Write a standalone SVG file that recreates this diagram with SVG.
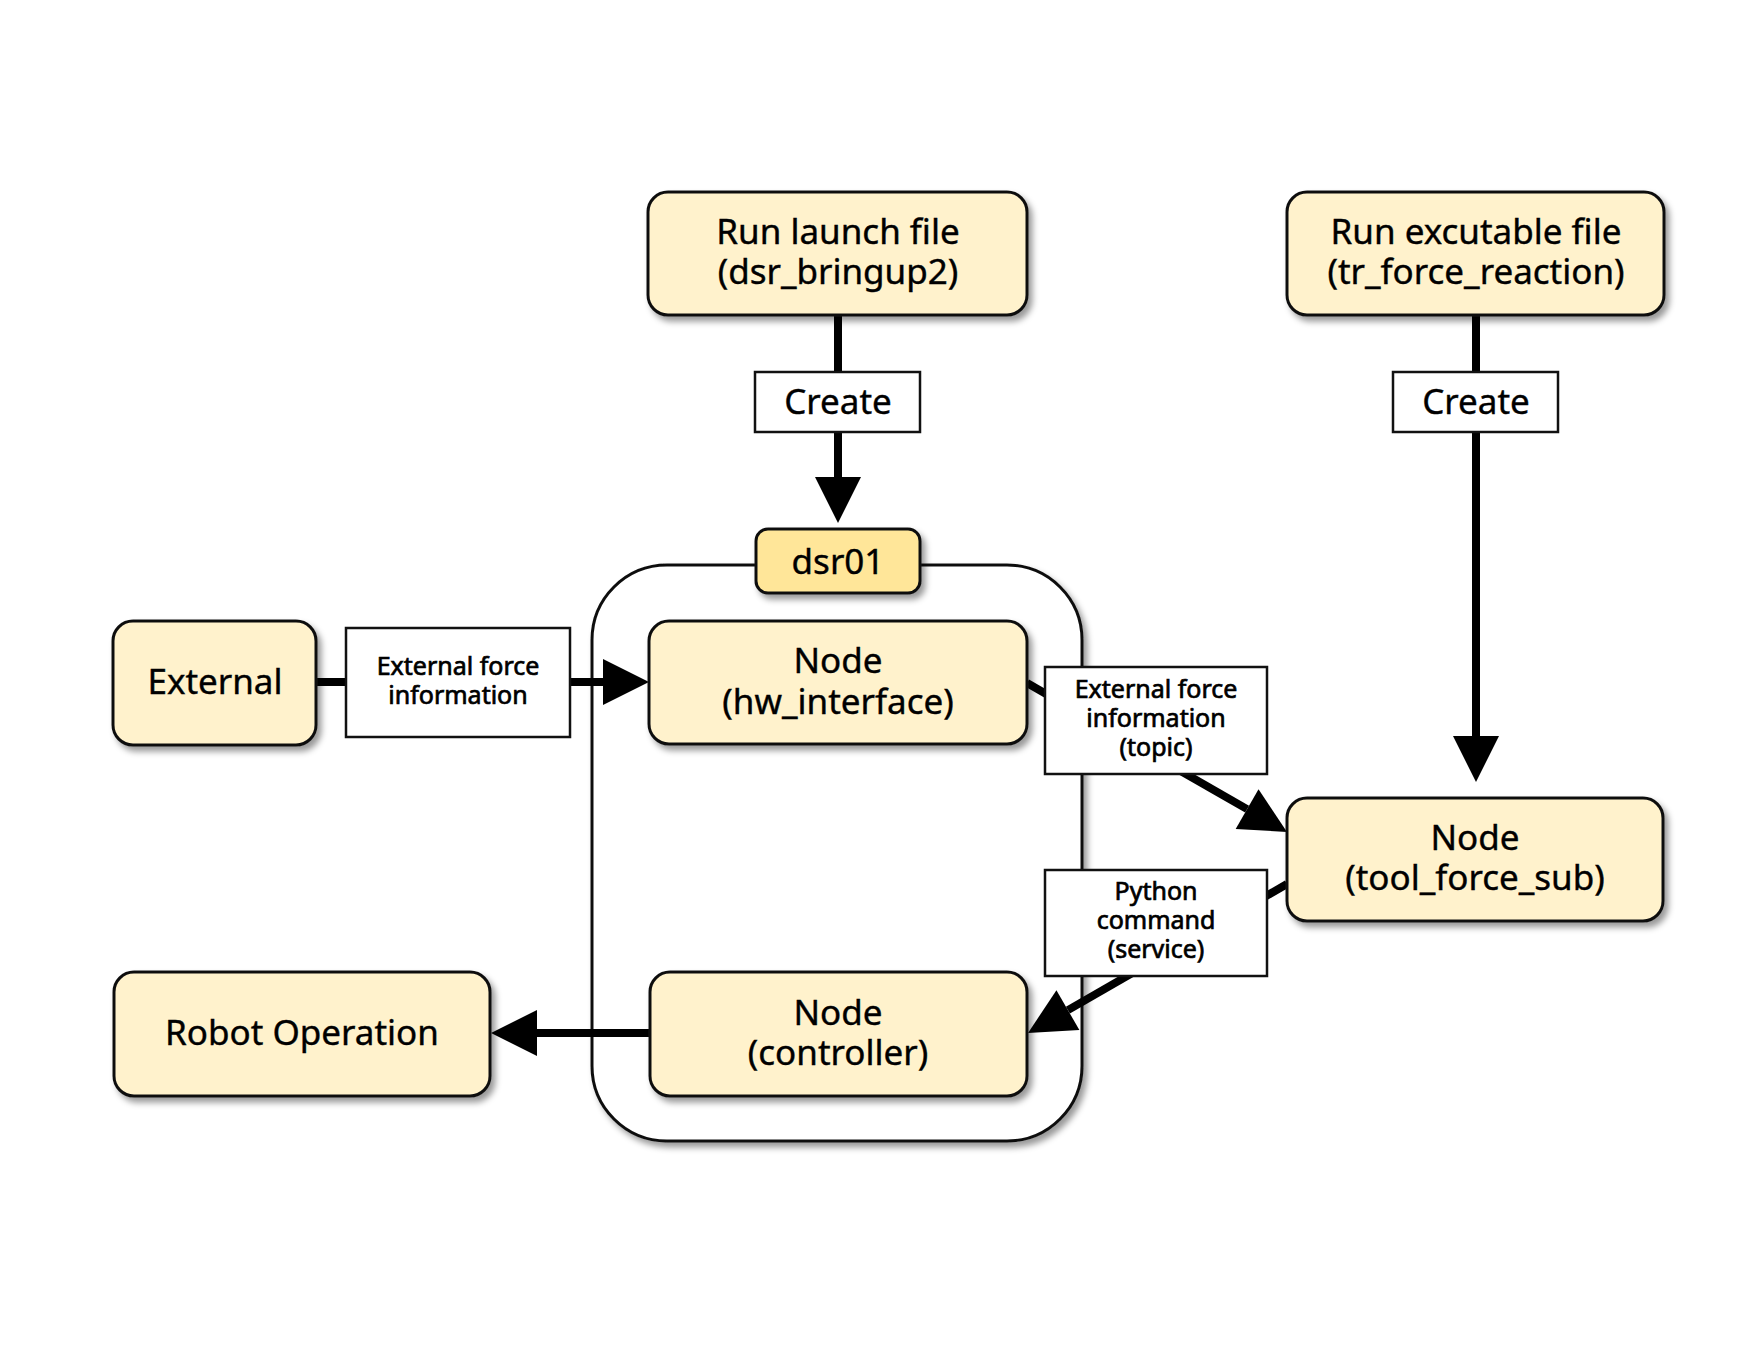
<svg xmlns="http://www.w3.org/2000/svg" width="1755" height="1346" viewBox="0 0 1755 1346">
<defs>
<filter id="sh" x="-10%" y="-10%" width="130%" height="140%">
<feDropShadow dx="4" dy="5" stdDeviation="3" flood-color="#000" flood-opacity="0.4"/>
</filter>
<marker id="ah" markerUnits="userSpaceOnUse" markerWidth="46" markerHeight="46" refX="0" refY="23" orient="auto" overflow="visible">
<path d="M0,0 L46,23 L0,46 Z" fill="#000"/>
</marker>
</defs>
<style>
.node{fill:#FFF2CC;stroke:#111;stroke-width:3;filter:url(#sh)}
.dsr{fill:#FFE699;stroke:#111;stroke-width:3;filter:url(#sh)}
.cont{fill:#fff;stroke:#111;stroke-width:3;filter:url(#sh)}
.lbl{fill:#fff;stroke:#111;stroke-width:2.5}
.conn{fill:none;stroke:#000;stroke-width:8}
.t{font-family:"Noto Sans","Liberation Sans",sans-serif;fill:#000;text-anchor:middle;stroke:#000;stroke-width:0.4}
.big{font-size:35px}
.mid{font-size:35px}
.sm{font-size:25px;stroke-width:0.7}
</style>
<rect width="1755" height="1346" fill="#fff"/>

<g id="container-dsr01">
<rect class="cont" x="592" y="565" width="490" height="576" rx="75"/>
</g>

<g id="connectors">
<line class="conn" x1="838" y1="315" x2="838" y2="477" marker-end="url(#ah)"/>
<line class="conn" x1="1476" y1="315" x2="1476" y2="736" marker-end="url(#ah)"/>
<line class="conn" x1="316" y1="682" x2="603" y2="682" marker-end="url(#ah)"/>
<line class="conn" x1="650" y1="1033" x2="537" y2="1033" marker-end="url(#ah)"/>
<line class="conn" x1="1027" y1="683" x2="1247.1" y2="809.1" marker-end="url(#ah)"/>
<line class="conn" x1="1287" y1="884" x2="1067.9" y2="1010.1" marker-end="url(#ah)"/>
</g>

<g id="run-launch">
<rect class="node" x="648" y="192" width="379" height="123" rx="20"/>
<text class="t big" x="838" y="244">Run launch file</text>
<text class="t big" x="838" y="284">(dsr_bringup2)</text>
</g>

<g id="run-exec">
<rect class="node" x="1287" y="192" width="377" height="123" rx="20"/>
<text class="t big" x="1476" y="244">Run excutable file</text>
<text class="t big" x="1476" y="284">(tr_force_reaction)</text>
</g>

<g id="label-create-1">
<rect class="lbl" x="755" y="372" width="165" height="60"/>
<text class="t mid" x="838" y="414">Create</text>
</g>

<g id="label-create-2">
<rect class="lbl" x="1393" y="372" width="165" height="60"/>
<text class="t mid" x="1476" y="414">Create</text>
</g>

<g id="dsr01">
<rect class="dsr" x="756" y="529" width="164" height="64" rx="12"/>
<text class="t mid" x="838" y="574">dsr01</text>
</g>

<g id="external">
<rect class="node" x="113" y="621" width="203" height="124" rx="20"/>
<text class="t big" x="215" y="694">External</text>
</g>

<g id="label-ext-force">
<rect class="lbl" x="346" y="628" width="224" height="109"/>
<text class="t sm" x="458" y="675">External force</text>
<text class="t sm" x="458" y="704">information</text>
</g>

<g id="hw-interface">
<rect class="node" x="649" y="621" width="378" height="123" rx="20"/>
<text class="t big" x="838" y="673">Node</text>
<text class="t big" x="838" y="714">(hw_interface)</text>
</g>

<g id="label-topic">
<rect class="lbl" x="1045" y="667" width="222" height="107"/>
<text class="t sm" x="1156" y="698">External force</text>
<text class="t sm" x="1156" y="727">information</text>
<text class="t sm" x="1156" y="756">(topic)</text>
</g>

<g id="tool-force-sub">
<rect class="node" x="1287" y="798" width="376" height="123" rx="20"/>
<text class="t big" x="1475" y="850">Node</text>
<text class="t big" x="1475" y="890">(tool_force_sub)</text>
</g>

<g id="label-python">
<rect class="lbl" x="1045" y="870" width="222" height="106"/>
<text class="t sm" x="1156" y="900">Python</text>
<text class="t sm" x="1156" y="929">command</text>
<text class="t sm" x="1156" y="958">(service)</text>
</g>

<g id="controller">
<rect class="node" x="650" y="972" width="377" height="124" rx="20"/>
<text class="t big" x="838" y="1025">Node</text>
<text class="t big" x="838" y="1065">(controller)</text>
</g>

<g id="robot-operation">
<rect class="node" x="114" y="972" width="376" height="124" rx="20"/>
<text class="t big" x="302" y="1045">Robot Operation</text>
</g>
</svg>
